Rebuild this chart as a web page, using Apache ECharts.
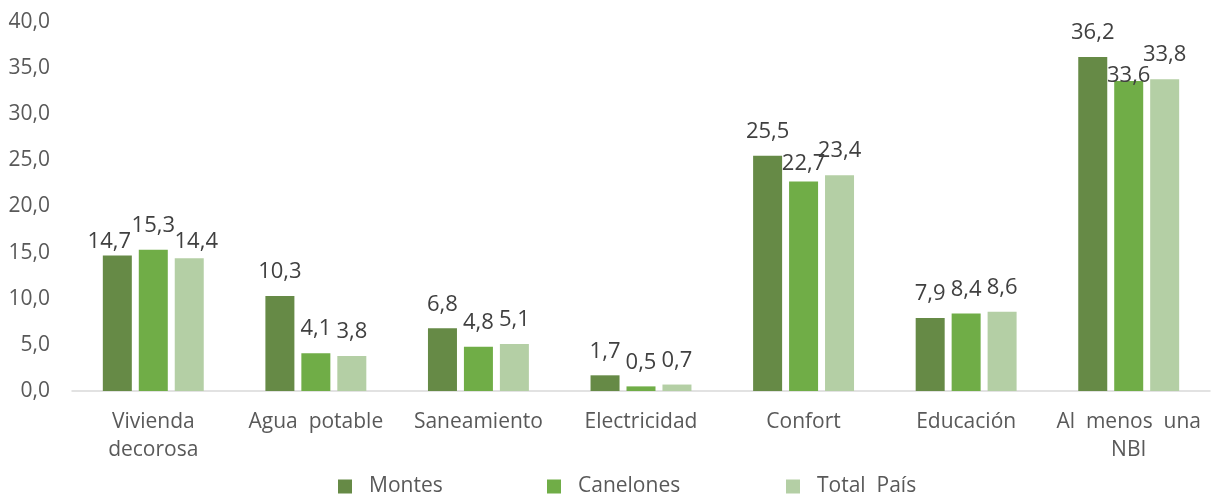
<!DOCTYPE html>
<html>
<head>
<meta charset="utf-8">
<script src="https://cdn.jsdelivr.net/npm/echarts@6/dist/echarts.min.js"></script>
<style>
  html, body { margin: 0; padding: 0; background: #fff; }
  #chart { width: 1217px; height: 496px; }
</style>
</head>
<body>
<div id="chart"></div>
<script>
// categories and values
var categories = ['Vivienda\ndecorosa', 'Agua  potable', 'Saneamiento', 'Electricidad', 'Confort', 'Educación', 'Al  menos  una\nNBI'];
var seriesNames = ['Montes', 'Canelones', 'Total  País'];
var montes = [14.7, 10.3, 6.8, 1.7, 25.5, 7.9, 36.2];
var canelones = [15.3, 4.1, 4.8, 0.5, 22.7, 8.4, 33.6];
var totalPais = [14.4, 3.8, 5.1, 0.7, 23.4, 8.6, 33.8];
var colors = ['#668a46', '#70ad47', '#b4cfa5'];

// label nudges (series index -> category index -> [dx, dy]) where the original
// chart shifted overlapping labels
var labelNudge = {
    0: { 0: [-8, 10] },
    1: { 4: [0, 6], 6: [0, 19] },
    2: { 0: [7, 8] }
};

var FONT = '"Open Sans", "Noto Sans", sans-serif';
var TEXT = '#595959';

function fmt(v) {
    return v.toFixed(1).replace('.', ',');
}

var myChart = echarts.init(document.getElementById('chart'));

function makeSeries(idx, data) {
    var nudges = labelNudge[idx] || {};
    var items = data.map(function (v, i) {
        if (nudges[i]) {
            return { value: v, label: { offset: nudges[i] } };
        }
        return v;
    });
    return {
        name: seriesNames[idx],
        type: 'bar',
        data: items,
        barWidth: 29,
        barGap: '24%',
        itemStyle: { color: colors[idx] },
        label: {
            show: true,
            position: 'top',
            distance: 13,
            color: '#404040',
            fontFamily: FONT,
            fontSize: 22,
            formatter: function (p) { return fmt(p.value); }
        }
    };
}

// one legend per series so each item sits where the reference puts it
function makeLegend(name, left) {
    return {
        data: [name],
        left: left,
        top: 476,
        padding: 0,
        icon: 'rect',
        itemWidth: 14,
        itemHeight: 14,
        itemGap: 0,
        textStyle: { color: TEXT, fontFamily: FONT, fontSize: 21, padding: [0, 0, 0, 12] }
    };
}

var option = {
    animation: false,
    backgroundColor: '#fff',
    color: colors,
    legend: [
        makeLegend(seriesNames[0], 338),
        makeLegend(seriesNames[1], 547),
        makeLegend(seriesNames[2], 786)
    ],
    grid: { left: 72, right: 7, top: 22, bottom: 105 },
    xAxis: {
        type: 'category',
        data: categories,
        axisLine: { show: true, lineStyle: { color: '#d9d9d9', width: 1.5 } },
        axisTick: { show: false },
        axisLabel: {
            color: TEXT,
            fontFamily: FONT,
            fontSize: 21,
            lineHeight: 28,
            margin: 17,
            interval: 0
        }
    },
    yAxis: {
        type: 'value',
        min: 0,
        max: 40,
        interval: 5,
        splitLine: { show: false },
        axisLine: { show: false },
        axisTick: { show: false },
        axisLabel: {
            color: TEXT,
            fontFamily: FONT,
            fontSize: 21,
            margin: 22,
            formatter: function (v) { return fmt(v); }
        }
    },
    series: [
        makeSeries(0, montes),
        makeSeries(1, canelones),
        makeSeries(2, totalPais)
    ]
};

myChart.setOption(option);
</script>
</body>
</html>
